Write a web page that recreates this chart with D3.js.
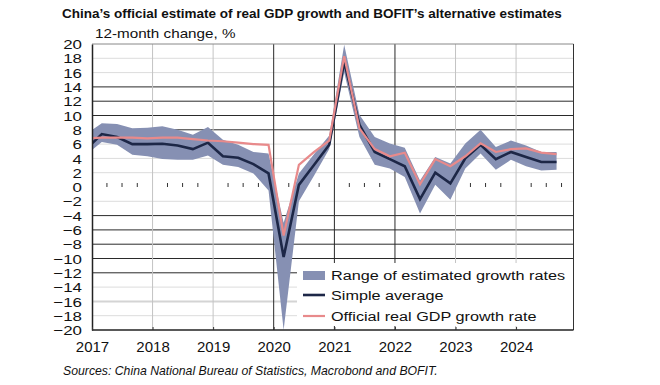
<!DOCTYPE html>
<html>
<head>
<meta charset="utf-8">
<script src="https://cdn.jsdelivr.net/npm/d3@7"></script>
<style>
  body { margin: 0; background: #fff; }
  text { font-family: "Liberation Sans", Arial, sans-serif; fill: #111; }
</style>
</head>
<body>
<script>
// Quarterly data (2016Q4 point is clipped at the left edge)
const quarters = [
  '2016Q4',
  '2017Q1', '2017Q2', '2017Q3', '2017Q4',
  '2018Q1', '2018Q2', '2018Q3', '2018Q4',
  '2019Q1', '2019Q2', '2019Q3', '2019Q4',
  '2020Q1', '2020Q2', '2020Q3', '2020Q4',
  '2021Q1', '2021Q2', '2021Q3', '2021Q4',
  '2022Q1', '2022Q2', '2022Q3', '2022Q4',
  '2023Q1', '2023Q2', '2023Q3', '2023Q4',
  '2024Q1', '2024Q2', '2024Q3'
];
const official = [
  6.8,
  6.9, 6.9, 6.9, 6.8,
  6.9, 6.9, 6.7, 6.5,
  6.4, 6.2, 6.0, 5.9,
  -6.8, 3.1, 4.9, 6.5,
  18.3, 8.2, 5.3, 4.3,
  4.8, 0.4, 3.9, 2.9,
  4.3, 6.1, 4.9, 5.3,
  5.4, 4.8, 4.6
];
const average = [
  5.4,
  7.4, 7.0, 6.0, 6.0,
  6.05, 5.8, 5.3, 6.2,
  4.3, 4.1, 3.2, 1.9,
  -9.8, 0.3, 3.1, 5.9,
  17.5, 8.7, 4.9, 3.9,
  2.9, -1.7, 2.0, 0.5,
  4.0, 5.9, 3.9, 4.9,
  4.2, 3.5, 3.5
];
const rangeHigh = [
  7.5,
  8.9, 8.8, 8.2, 8.3,
  8.5, 8.0, 7.3, 8.4,
  6.6, 5.9, 4.9, 4.7,
  -5.0, 1.9, 4.6, 7.2,
  19.9, 10.1, 7.0, 6.1,
  5.5, 0.9, 4.2, 3.3,
  6.1, 8.0, 5.6, 6.5,
  5.8, 4.9, 4.9
];
const rangeLow = [
  4.6,
  6.3, 5.9, 4.5, 4.3,
  3.9, 3.8, 3.8, 4.4,
  3.1, 2.8, 1.9, -0.5,
  -20, -2.0, 1.6, 5.3,
  16.0, 7.0, 3.1, 2.6,
  1.4, -3.7, 0.3, -1.8,
  2.6, 4.7, 2.4, 3.8,
  2.9, 2.3, 2.4
];
const years = [2017, 2018, 2019, 2020, 2021, 2022, 2023, 2024];
const yTicks = d3.range(-20, 21, 2);

const legendLabels = ['Range of estimated growth rates', 'Simple average', 'Official real GDP growth rate'];
const titleText = 'China\u2019s official estimate of real GDP growth and BOFIT\u2019s alternative estimates';
const unitText = '12-month change, %';
const sourceText = 'Sources: China National Bureau of Statistics, Macrobond and BOFIT.';

// Colours
const bandColor = '#8690b3';
const avgColor = '#1d2747';
const offColor = '#e88a8b';

// parse "2020Q1" -> date in the middle of the quarter
const parseQ = s => new Date(+s.slice(0, 4), 3 * (+s.slice(5)) - 1, 1);

const data = quarters.map((q, i) => ({
  date: parseQ(q),
  official: official[i],
  average: average[i],
  hi: rangeHigh[i],
  lo: rangeLow[i]
}));

const svgWidth = 660, svgHeight = 385;
const plot = { left: 92, right: 573.5, top: 44, bottom: 330 };

const svg = d3.select('body').append('svg')
  .attr('width', svgWidth)
  .attr('height', svgHeight);

const x = d3.scaleTime()
  .domain([new Date(2017, 0, 1), new Date(2025, 0, 1)])
  .range([plot.left, plot.left + 8 * 60.6]);

const y = d3.scaleLinear()
  .domain([-20, 20])
  .range([plot.bottom, plot.top]);

// text helper, the original text is a bit wider than normal
function stretchText(parent, tx, ty, str, size, sx, anchor) {
  return parent.append('text')
    .attr('transform', `translate(${tx},${ty}) scale(${sx},1)`)
    .attr('text-anchor', anchor || 'start')
    .style('font-size', size + 'px')
    .text(str);
}

// Horizontal gridlines
const darkLines = new Set([14, 12, 10, 8, -4, -6, -8, -10, -12]);
svg.append('g')
  .selectAll('line')
  .data(yTicks.filter(v => v !== 0 && Math.abs(v) !== 20))
  .join('line')
  .attr('x1', plot.left)
  .attr('x2', plot.right)
  .attr('y1', d => y(d))
  .attr('y2', d => y(d))
  .attr('stroke', d => darkLines.has(d) ? '#2a2a2a' : (d === -16 ? '#d4d4d4' : '#dcdcdc'))
  .attr('stroke-width', d => d === -16 ? 2 : 1);

// Vertical gridlines
const darkYears = new Set([2020, 2021, 2022]);
svg.append('g')
  .selectAll('line')
  .data(years.slice(1))
  .join('line')
  .attr('x1', d => x(new Date(d, 0, 1)))
  .attr('x2', d => x(new Date(d, 0, 1)))
  .attr('y1', plot.top)
  .attr('y2', plot.bottom)
  .attr('stroke', d => darkYears.has(d) ? '#2a2a2a' : '#c4c4c4')
  .attr('stroke-width', 1);

// Quarter ticks on the zero line
const quarterTicks = [];
years.forEach(yr => [1, 2, 3].forEach(k => quarterTicks.push(new Date(yr, 3 * k, 1))));
svg.append('g')
  .selectAll('line')
  .data(quarterTicks)
  .join('line')
  .attr('x1', d => x(d))
  .attr('x2', d => x(d))
  .attr('y1', y(0) - 4)
  .attr('y2', y(0))
  .attr('stroke', '#333')
  .attr('stroke-width', 1);

// Clip series to plot area
svg.append('clipPath')
  .attr('id', 'plotClip')
  .append('rect')
  .attr('x', plot.left)
  .attr('y', plot.top)
  .attr('width', plot.right - plot.left)
  .attr('height', plot.bottom - plot.top);

const series = svg.append('g').attr('clip-path', 'url(#plotClip)');

const area = d3.area()
  .x(d => x(d.date))
  .y0(d => y(d.lo))
  .y1(d => y(d.hi));

series.append('path')
  .datum(data)
  .attr('d', area)
  .attr('fill', bandColor);

const avgLine = d3.line().x(d => x(d.date)).y(d => y(d.average));
const offLine = d3.line().x(d => x(d.date)).y(d => y(d.official));

series.append('path')
  .datum(data)
  .attr('d', avgLine)
  .attr('fill', 'none')
  .attr('stroke', avgColor)
  .attr('stroke-width', 2.6)
  .attr('stroke-linejoin', 'miter');

series.append('path')
  .datum(data)
  .attr('d', offLine)
  .attr('fill', 'none')
  .attr('stroke', offColor)
  .attr('stroke-width', 2.2);

// Legend
const legend = svg.append('g');
legend.append('rect')
  .attr('x', 297)
  .attr('y', 263)
  .attr('width', plot.right - 297)
  .attr('height', 63)
  .attr('fill', '#fff');

legend.append('rect')
  .attr('x', 303)
  .attr('y', 271)
  .attr('width', 22)
  .attr('height', 9)
  .attr('fill', bandColor);
legend.append('line')
  .attr('x1', 303).attr('x2', 325)
  .attr('y1', 295).attr('y2', 295)
  .attr('stroke', avgColor).attr('stroke-width', 2.6);
legend.append('line')
  .attr('x1', 303).attr('x2', 325)
  .attr('y1', 316).attr('y2', 316)
  .attr('stroke', offColor).attr('stroke-width', 2.2);

legendLabels.forEach((lbl, i) => {
  stretchText(legend, 331, 280 + i * 20.3, lbl, 13.5, 1.2);
});

// Frame
const frame = svg.append('g');
frame.append('line')
  .attr('x1', plot.left).attr('x2', plot.right)
  .attr('y1', plot.top).attr('y2', plot.top)
  .attr('stroke', '#888');
frame.append('line')
  .attr('x1', plot.right).attr('x2', plot.right)
  .attr('y1', plot.top).attr('y2', plot.bottom)
  .attr('stroke', '#333');

// Y axis
const yAxis = d3.axisLeft(y).tickValues(yTicks).tickSize(0).tickFormat(d3.format('d'));
const yAxisG = svg.append('g')
  .attr('transform', `translate(${plot.left},0)`)
  .call(yAxis);
yAxisG.select('.domain').attr('stroke', '#222').attr('stroke-width', 1.5);
yAxisG.selectAll('text')
  .attr('x', 0)
  .attr('dy', '0.36em')
  .attr('transform', 'translate(-10,0) scale(1.3,1)')
  .style('font-size', '13px')
  .style('font-family', '"Liberation Sans", Arial, sans-serif')
  .attr('fill', '#111');

// X axis
const xAxis = d3.axisBottom(x)
  .tickValues(years.map(yr => new Date(yr, 0, 1)))
  .tickSize(-3)
  .tickPadding(11)
  .tickFormat(d3.timeFormat('%Y'));
const xAxisG = svg.append('g')
  .attr('transform', `translate(0,${plot.bottom})`)
  .call(xAxis);
xAxisG.select('.domain')
  .attr('d', `M${plot.left},0H${plot.right}`)
  .attr('stroke', '#222')
  .attr('stroke-width', 1.5);
xAxisG.selectAll('.tick line').attr('stroke', '#333');
xAxisG.selectAll('text')
  .style('font-size', '15px')
  .style('font-family', '"Liberation Sans", Arial, sans-serif')
  .attr('fill', '#111');

// Title, unit and source
svg.append('text')
  .attr('x', 62)
  .attr('y', 18)
  .style('font-size', '13.5px')
  .style('font-weight', 'bold')
  .text(titleText);

stretchText(svg, 95, 38, unitText, 12, 1.27);

svg.append('text')
  .attr('x', 63)
  .attr('y', 375)
  .style('font-size', '12.25px')
  .style('font-style', 'italic')
  .text(sourceText);
</script>
</body>
</html>
